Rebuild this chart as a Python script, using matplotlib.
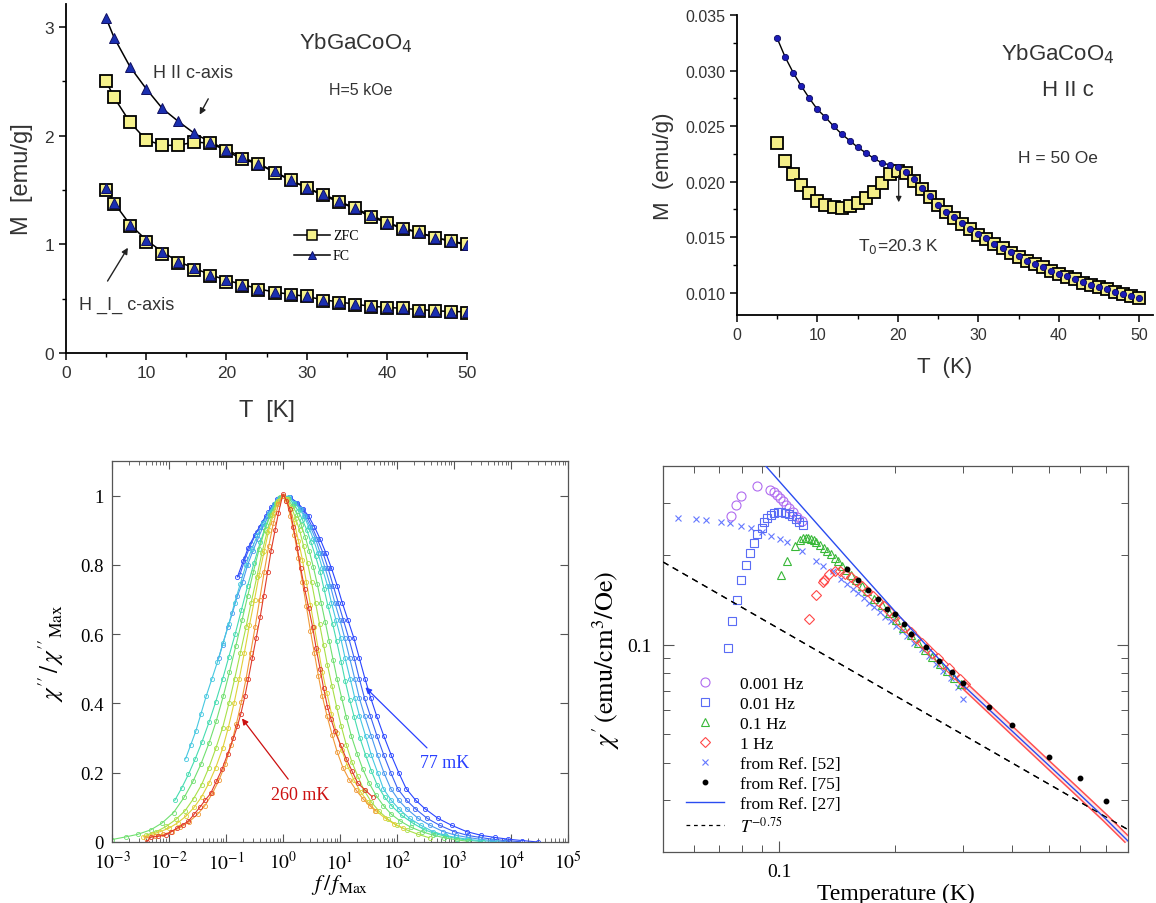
import math
import matplotlib
matplotlib.use('Agg')
import matplotlib.pyplot as plt
from matplotlib.lines import Line2D
from matplotlib.ticker import (MultipleLocator, LogLocator, NullFormatter,
                               FuncFormatter, FixedLocator)

plt.rcParams['mathtext.fontset'] = 'stix'
SANS = 'Liberation Sans'
SERIF = 'Liberation Serif'
GREY = '#333333'

# ---------------- panel A : YbGaCoO4, H = 5 kOe ----------------
T_a = [5, 6, 8, 10, 12, 14, 16, 18, 20, 22, 24, 26, 28, 30, 32, 34, 36, 38, 40, 42, 44, 46, 48, 50]
fc_par = [3.08, 2.90, 2.63, 2.43, 2.25, 2.13, 2.02, 1.94, 1.87, 1.80, 1.74, 1.67, 1.59, 1.52,
          1.46, 1.40, 1.33, 1.27, 1.20, 1.15, 1.11, 1.06, 1.03, 0.99]
zfc_par = [2.50, 2.35, 2.12, 1.96, 1.91, 1.91, 1.94, 1.93, 1.86, 1.78, 1.74, 1.66, 1.59, 1.52,
           1.45, 1.39, 1.33, 1.25, 1.20, 1.14, 1.11, 1.06, 1.03, 1.00]
zfc_perp = [1.50, 1.37, 1.17, 1.02, 0.91, 0.83, 0.76, 0.71, 0.65, 0.62, 0.58, 0.55, 0.53, 0.52,
            0.48, 0.46, 0.44, 0.42, 0.41, 0.41, 0.39, 0.39, 0.38, 0.37]
fc_perp = [1.52, 1.38, 1.18, 1.04, 0.93, 0.84, 0.78, 0.72, 0.67, 0.63, 0.59, 0.56, 0.54, 0.52,
           0.49, 0.47, 0.45, 0.43, 0.42, 0.41, 0.40, 0.39, 0.38, 0.38]

# ---------------- panel B : YbGaCoO4, H || c, H = 50 Oe ----------------
T_b = list(range(5, 51))
fc_b = [0.0329, 0.0312, 0.0298, 0.0286, 0.0275, 0.0265, 0.0258, 0.0250, 0.0243, 0.0237,
        0.0231, 0.0226, 0.0221, 0.0217, 0.0215, 0.0213, 0.0209, 0.0202, 0.0194, 0.0187,
        0.0179, 0.0173, 0.0168, 0.0163, 0.0157, 0.0153, 0.0149, 0.0144, 0.0140, 0.0137,
        0.0133, 0.0129, 0.0126, 0.0123, 0.0120, 0.0117, 0.0115, 0.0112, 0.0110, 0.0107,
        0.0105, 0.0103, 0.0101, 0.0099, 0.0097, 0.0095]
zfc_b = [0.0235, 0.0219, 0.0207, 0.0197, 0.0190, 0.0183, 0.0179, 0.0177, 0.0176, 0.0178,
         0.0181, 0.0185, 0.0191, 0.0199, 0.0207, 0.0210, 0.0208, 0.0201, 0.0193, 0.0186,
         0.0179, 0.0173, 0.0167, 0.0162, 0.0157, 0.0152, 0.0148, 0.0144, 0.0140, 0.0136,
         0.0132, 0.0129, 0.0126, 0.0123, 0.0120, 0.0117, 0.0114, 0.0112, 0.0109, 0.0107,
         0.0105, 0.0103, 0.0101, 0.0099, 0.0097, 0.0095]

# ---------------- panel C : chi''/chi''_max vs log10(f/f_max) ----------------
logf_c0 = [-0.80, -0.70, -0.61, -0.50, -0.41, -0.30, -0.21, -0.10, 0.00, 0.12, 0.25, 0.35, 0.45,
           0.55, 0.65, 0.75, 0.85, 0.95, 1.04, 1.14, 1.24, 1.34, 1.44, 1.54, 1.64, 1.77, 1.90,
           2.03, 2.16, 2.33, 2.49, 2.72, 2.96, 3.22, 3.48, 3.72, 3.95, 4.20, 4.47]
chi_c0 = [0.765, 0.81, 0.85, 0.885, 0.91, 0.94, 0.966, 0.99, 1.0, 0.995, 0.98, 0.962, 0.94,
          0.91, 0.875, 0.835, 0.79, 0.74, 0.69, 0.64, 0.59, 0.53, 0.47, 0.415, 0.365, 0.305, 0.25,
          0.20, 0.154, 0.12, 0.096, 0.068, 0.048, 0.03, 0.019, 0.013, 0.008, 0.004, 0.0]
logf_c1 = [-0.76, -0.66, -0.56, -0.46, -0.36, -0.26, -0.16, -0.07, 0.00, 0.11, 0.23, 0.33, 0.42,
           0.51, 0.60, 0.70, 0.79, 0.88, 0.97, 1.06, 1.15, 1.25, 1.34, 1.43, 1.53, 1.65, 1.77,
           1.89, 2.01, 2.17, 2.32, 2.53, 2.75, 3.00, 3.24, 3.46, 3.67, 3.90, 4.15]
chi_c1 = [0.77, 0.82, 0.86, 0.895, 0.925, 0.952, 0.975, 0.993, 1.0, 0.995, 0.98, 0.962, 0.94,
          0.91, 0.875, 0.835, 0.79, 0.74, 0.69, 0.64, 0.59, 0.53, 0.47, 0.415, 0.365, 0.305, 0.25,
          0.20, 0.154, 0.12, 0.096, 0.068, 0.048, 0.03, 0.019, 0.013, 0.008, 0.004, 0.001]
logf_c2 = [-1.13, -1.06, -0.97, -0.89, -0.80, -0.71, -0.62, -0.53, -0.44, -0.35, -0.26, -0.18,
           -0.09, 0.00, 0.10, 0.22, 0.31, 0.39, 0.48, 0.57, 0.65, 0.74, 0.83, 0.91, 1.00, 1.08,
           1.17, 1.26, 1.34, 1.43, 1.55, 1.66, 1.77, 1.89, 2.03, 2.17, 2.37, 2.58, 2.81, 3.04,
           3.25, 3.45, 3.67, 3.90]
chi_c2 = [0.53, 0.57, 0.62, 0.66, 0.71, 0.75, 0.80, 0.84, 0.875, 0.91, 0.94, 0.965, 0.99, 1.0,
          0.995, 0.98, 0.962, 0.94, 0.91, 0.875, 0.835, 0.79, 0.74, 0.69, 0.64, 0.59, 0.53, 0.47,
          0.415, 0.365, 0.305, 0.25, 0.20, 0.154, 0.12, 0.096, 0.068, 0.048, 0.03, 0.019, 0.013,
          0.008, 0.004, 0.001]
logf_c3 = [-1.71, -1.62, -1.53, -1.44, -1.35, -1.25, -1.15, -1.05, -0.95, -0.85, -0.75, -0.65,
           -0.55, -0.45, -0.35, -0.25, -0.15, -0.07, 0.00, 0.10, 0.20, 0.29, 0.37, 0.45, 0.53,
           0.61, 0.69, 0.78, 0.85, 0.93, 1.01, 1.09, 1.18, 1.26, 1.34, 1.45, 1.55, 1.66, 1.76,
           1.90, 2.03, 2.22, 2.42, 2.63, 2.84, 3.04, 3.23, 3.45, 3.75]
chi_c3 = [0.24, 0.28, 0.32, 0.37, 0.42, 0.47, 0.52, 0.575, 0.63, 0.69, 0.745, 0.80, 0.845, 0.885,
          0.92, 0.95, 0.975, 0.993, 1.0, 0.995, 0.98, 0.962, 0.94, 0.91, 0.875, 0.835, 0.79, 0.74,
          0.69, 0.64, 0.59, 0.53, 0.47, 0.415, 0.365, 0.305, 0.25, 0.20, 0.154, 0.12, 0.096,
          0.068, 0.048, 0.03, 0.019, 0.013, 0.008, 0.004, 0.001]
logf_c4 = [-1.90, -1.78, -1.66, -1.54, -1.42, -1.30, -1.18, -1.06, -0.95, -0.84, -0.73, -0.62,
           -0.51, -0.40, -0.30, -0.20, -0.10, 0.00, 0.09, 0.19, 0.27, 0.34, 0.42, 0.49, 0.57,
           0.65, 0.72, 0.79, 0.87, 0.94, 1.02, 1.09, 1.17, 1.25, 1.35, 1.45, 1.55, 1.65, 1.78,
           1.90, 2.08, 2.27, 2.47, 2.67, 2.86, 3.05, 3.25, 3.50]
chi_c4 = [0.12, 0.155, 0.195, 0.24, 0.29, 0.345, 0.405, 0.47, 0.535, 0.60, 0.67, 0.74, 0.805,
          0.865, 0.915, 0.955, 0.985, 1.0, 0.993, 0.975, 0.955, 0.93, 0.90, 0.865, 0.825, 0.78,
          0.73, 0.68, 0.63, 0.58, 0.52, 0.465, 0.41, 0.36, 0.30, 0.25, 0.205, 0.165, 0.13, 0.105,
          0.077, 0.055, 0.036, 0.024, 0.016, 0.01, 0.005, 0.001]
logf_c5 = [-3.00, -2.75, -2.55, -2.32, -2.12, -1.92, -1.73, -1.58, -1.44, -1.30, -1.17, -1.05,
           -0.94, -0.83, -0.72, -0.62, -0.52, -0.42, -0.32, -0.22, -0.12, -0.05, 0.00, 0.08, 0.17,
           0.25, 0.32, 0.39, 0.46, 0.53, 0.60, 0.67, 0.74, 0.81, 0.88, 0.95, 1.03, 1.11, 1.20,
           1.30, 1.40, 1.51, 1.63, 1.76, 1.90, 2.06, 2.24, 2.43, 2.63, 2.83, 3.05, 3.25]
chi_c5 = [0.007, 0.015, 0.022, 0.035, 0.055, 0.085, 0.13, 0.175, 0.225, 0.285, 0.35, 0.42, 0.49,
          0.565, 0.64, 0.71, 0.78, 0.845, 0.90, 0.945, 0.978, 0.995, 1.0, 0.99, 0.97, 0.945,
          0.915, 0.88, 0.84, 0.795, 0.745, 0.69, 0.635, 0.58, 0.525, 0.47, 0.415, 0.36, 0.305,
          0.255, 0.21, 0.17, 0.135, 0.105, 0.08, 0.06, 0.043, 0.03, 0.02, 0.012, 0.006, 0.002]
logf_c6 = [-2.40, -2.22, -2.05, -1.88, -1.72, -1.57, -1.43, -1.30, -1.18, -1.06, -0.95, -0.85,
           -0.75, -0.65, -0.56, -0.46, -0.37, -0.28, -0.19, -0.10, 0.00, 0.07, 0.15, 0.22, 0.29,
           0.36, 0.43, 0.50, 0.57, 0.64, 0.71, 0.78, 0.86, 0.94, 1.02, 1.11, 1.21, 1.31, 1.42,
           1.55, 1.69, 1.84, 2.00, 2.18, 2.37, 2.57]
chi_c6 = [0.02, 0.03, 0.045, 0.065, 0.09, 0.125, 0.165, 0.215, 0.27, 0.33, 0.40, 0.47, 0.545,
          0.62, 0.69, 0.765, 0.835, 0.895, 0.945, 0.98, 1.0, 0.99, 0.965, 0.935, 0.90, 0.855,
          0.805, 0.75, 0.69, 0.63, 0.57, 0.51, 0.45, 0.39, 0.335, 0.28, 0.23, 0.19, 0.15, 0.115,
          0.088, 0.066, 0.048, 0.034, 0.022, 0.012]
logf_c7 = [-2.45, -2.30, -2.15, -2.00, -1.85, -1.70, -1.56, -1.43, -1.30, -1.18, -1.06, -0.96,
           -0.86, -0.77, -0.68, -0.59, -0.50, -0.42, -0.33, -0.25, -0.16, -0.08, 0.00, 0.06, 0.13,
           0.20, 0.27, 0.34, 0.41, 0.48, 0.55, 0.62, 0.69, 0.77, 0.85, 0.94, 1.03, 1.13, 1.24,
           1.36, 1.49, 1.63, 1.78, 1.95, 2.10]
chi_c7 = [0.015, 0.022, 0.03, 0.04, 0.055, 0.075, 0.10, 0.13, 0.17, 0.215, 0.27, 0.33, 0.40,
          0.47, 0.545, 0.625, 0.70, 0.77, 0.84, 0.90, 0.95, 0.985, 1.0, 0.99, 0.96, 0.92, 0.87,
          0.815, 0.75, 0.685, 0.62, 0.555, 0.49, 0.43, 0.37, 0.315, 0.265, 0.22, 0.18, 0.145,
          0.115, 0.09, 0.07, 0.052, 0.04]
logf_c8 = [-2.40, -2.25, -2.10, -1.95, -1.80, -1.65, -1.50, -1.37, -1.24, -1.12, -1.01, -0.91,
           -0.82, -0.73, -0.65, -0.57, -0.49, -0.41, -0.33, -0.25, -0.17, -0.08, 0.00, 0.06, 0.13,
           0.20, 0.27, 0.34, 0.41, 0.48, 0.55, 0.62, 0.69, 0.77, 0.86, 0.95, 1.05, 1.16, 1.28,
           1.40, 1.52, 1.62]
chi_c8 = [0.012, 0.016, 0.022, 0.03, 0.042, 0.058, 0.08, 0.105, 0.14, 0.18, 0.225, 0.28, 0.34,
          0.405, 0.47, 0.545, 0.62, 0.70, 0.78, 0.855, 0.92, 0.975, 1.0, 0.985, 0.94, 0.885, 0.82,
          0.75, 0.68, 0.61, 0.545, 0.48, 0.42, 0.365, 0.31, 0.26, 0.215, 0.18, 0.15, 0.125,
          0.105, 0.09]
logf_c9 = [-2.39, -2.32, -2.20, -2.06, -1.96, -1.86, -1.76, -1.66, -1.56, -1.46, -1.37, -1.27,
           -1.17, -1.07, -0.97, -0.87, -0.80, -0.74, -0.67, -0.61, -0.54, -0.47, -0.40, -0.34,
           -0.27, -0.21, -0.14, -0.08, 0.00, 0.06, 0.12, 0.18, 0.25, 0.31, 0.38, 0.45, 0.52, 0.58,
           0.65, 0.71, 0.78, 0.84, 0.91, 1.01, 1.11, 1.21, 1.31, 1.44, 1.57]
chi_c9 = [0.0, 0.014, 0.016, 0.02, 0.03, 0.04, 0.05, 0.06, 0.08, 0.10, 0.12, 0.14, 0.175, 0.21,
          0.255, 0.30, 0.335, 0.37, 0.42, 0.47, 0.53, 0.59, 0.65, 0.71, 0.78, 0.84, 0.90, 0.95,
          1.005, 0.985, 0.96, 0.91, 0.85, 0.79, 0.73, 0.675, 0.62, 0.56, 0.50, 0.445, 0.39,
          0.355, 0.32, 0.28, 0.24, 0.205, 0.17, 0.15, 0.13]
curve_colors = ['#2a45ff', '#3b62f5', '#4a9af0', '#45c8e0', '#45dcb0',
                '#70e070', '#a8e048', '#e0d038', '#f09a38', '#e03a2a']

# ---------------- panel D : chi' vs T (log-log) ----------------
T_001 = [0.0748, 0.0772, 0.0796, 0.0877, 0.0947, 0.0968, 0.0985, 0.1002, 0.1020, 0.1040,
         0.1062, 0.1085, 0.1114, 0.1145]
chi_001 = [0.272, 0.296, 0.316, 0.342, 0.332, 0.326, 0.320, 0.313, 0.305, 0.296, 0.289, 0.279,
           0.270, 0.262]
T_01 = [0.0736, 0.0754, 0.0777, 0.0798, 0.0820, 0.0841, 0.0860, 0.0878, 0.0900, 0.0915, 0.0931,
        0.0950, 0.0970, 0.0991, 0.1013, 0.1035, 0.1058, 0.1081, 0.1105, 0.1128, 0.1153]
chi_01 = [0.0977, 0.1198, 0.1416, 0.1646, 0.1853, 0.2033, 0.2203, 0.2361, 0.2474, 0.2586,
          0.2674, 0.2737, 0.2780, 0.2801, 0.2794, 0.2780, 0.2751, 0.2708, 0.2653, 0.2592, 0.2526]
T_1 = [0.1013, 0.1046, 0.1098, 0.1133, 0.1153, 0.1171, 0.1189, 0.1209, 0.1228, 0.1249, 0.1276,
       0.1304, 0.1333, 0.1362, 0.1391, 0.1422, 0.1453, 0.1491, 0.1533, 0.1584, 0.1636, 0.1690,
       0.1765, 0.1842, 0.1924, 0.2009, 0.2098, 0.2190, 0.2287, 0.2388, 0.2493, 0.2603, 0.2718,
       0.2838, 0.2963]
chi_1 = [0.1711, 0.1907, 0.2142, 0.2255, 0.2285, 0.2291, 0.2285, 0.2273, 0.2249, 0.2214, 0.2169,
         0.2125, 0.2076, 0.2018, 0.1962, 0.1907, 0.1848, 0.1787, 0.1719, 0.1646, 0.1575, 0.1511,
         0.1428, 0.1356, 0.1281, 0.1207, 0.1141, 0.1075, 0.1015, 0.0957, 0.0907, 0.0859, 0.0815,
         0.0773, 0.0734]
T_10 = [0.1197, 0.1244, 0.1299, 0.1304, 0.1347, 0.1391, 0.1437, 0.1484, 0.1533, 0.1584, 0.1636,
        0.1690, 0.1746, 0.1804, 0.1863, 0.1924, 0.1987, 0.2052, 0.2120, 0.2190, 0.2262, 0.2337,
        0.2414, 0.2493, 0.2576, 0.2661, 0.2748, 0.2838, 0.2932, 0.3029]
chi_10 = [0.1223, 0.1465, 0.1625, 0.1646, 0.1733, 0.1769, 0.1764, 0.1733, 0.1689, 0.1633,
          0.1575, 0.1515, 0.1458, 0.1403, 0.1349, 0.1295, 0.1245, 0.1195, 0.1147, 0.1100, 0.1056,
          0.1013, 0.0974, 0.0935, 0.0900, 0.0863, 0.0831, 0.0797, 0.0765, 0.0736]
T_10_hi = [0.30, 0.40, 0.50, 0.60, 0.70, 0.80]
chi_10_hi = [0.0733, 0.0515, 0.0392, 0.0314, 0.0260, 0.0219]
T_ref52 = [0.0547, 0.0608, 0.0646, 0.0708, 0.0747, 0.0797, 0.0847, 0.0900, 0.0950, 0.1007,
           0.1046, 0.1146, 0.1244, 0.1299, 0.1376, 0.1443, 0.1501, 0.1550, 0.1601, 0.1654,
           0.1709, 0.1765, 0.1823, 0.1883, 0.1945, 0.2009, 0.2075, 0.2143, 0.2239, 0.2337,
           0.2440, 0.2548, 0.2661, 0.2779, 0.2901, 0.2996]
chi_ref52 = [0.2674, 0.2653, 0.2639, 0.2599, 0.2565, 0.2519, 0.2467, 0.2405, 0.2331, 0.2278,
             0.2214, 0.2076, 0.1916, 0.1848, 0.1769, 0.1667, 0.1595, 0.1543, 0.1492, 0.1436,
             0.1385, 0.1339, 0.1288, 0.1239, 0.1198, 0.1156, 0.1109, 0.1069, 0.1015, 0.0964,
             0.0913, 0.0863, 0.0815, 0.0773, 0.0721, 0.0658]
T_ref75 = [0.15, 0.16, 0.17, 0.18, 0.19, 0.20, 0.21, 0.22, 0.24, 0.26, 0.28, 0.30, 0.35, 0.40,
           0.50, 0.60, 0.70]
chi_ref75 = [0.1801, 0.1650, 0.1531, 0.1428, 0.1318, 0.1265, 0.1170, 0.1089, 0.0979, 0.0881,
             0.0811, 0.0743, 0.0617, 0.0538, 0.0419, 0.0354, 0.0296]
T_ref27 = [0.0923, 0.15, 0.20, 0.30, 0.40, 0.50, 0.60, 0.70, 0.80]
chi_ref27 = [0.400, 0.196, 0.129, 0.0728, 0.0513, 0.0391, 0.0313, 0.0259, 0.0218]
T_pow = [0.05, 0.80]
chi_pow = [0.190, 0.0238]

fig = plt.figure(figsize=(11.56, 9.04), dpi=100)


def origin_style(ax):
    for s in ('top', 'right'):
        ax.spines[s].set_visible(False)
    for s in ('left', 'bottom'):
        ax.spines[s].set_linewidth(1.3)
    ax.tick_params(which='major', direction='out', length=5, width=1.1,
                   labelsize=12.5, labelcolor=GREY)
    ax.tick_params(which='minor', direction='out', length=3, width=1.0)
    for lab in ax.get_xticklabels() + ax.get_yticklabels():
        lab.set_family(SANS)


# ---- A ----
axA = fig.add_axes([0.0571, 0.6084, 0.3469, 0.3861])
sq = dict(ls='none', marker='s', ms=9, mfc='#f6f28c', mec='k', mew=1.3)
tri = dict(ls='none', marker='^', ms=6.5, mfc='#1a2fb0', mec='#101060', mew=0.7)
for y in (fc_par, zfc_par, fc_perp):
    axA.plot(T_a, y, '-', color='k', lw=1.1)
axA.plot(T_a, zfc_par, **sq)
axA.plot(T_a, zfc_perp, **sq)
axA.plot(T_a, fc_par, **tri)
axA.plot(T_a, fc_perp, **tri)
axA.set_xlim(0, 50)
axA.set_ylim(0, 3.21)
axA.xaxis.set_major_locator(MultipleLocator(10))
axA.xaxis.set_minor_locator(MultipleLocator(5))
axA.yaxis.set_major_locator(MultipleLocator(1))
axA.yaxis.set_minor_locator(MultipleLocator(0.5))
origin_style(axA)
axA.set_xlabel('T  [K]', family=SANS, fontsize=17, color=GREY, labelpad=14)
axA.set_ylabel('M  [emu/g]', family=SANS, fontsize=17, color=GREY, labelpad=8)
axA.text(36.2, 2.86, 'YbGaCoO$_4$', family=SANS, fontsize=16, color=GREY,
         ha='center', va='center', math_fontfamily='dejavusans')
axA.text(36.8, 2.42, 'H=5 kOe', family=SANS, fontsize=11.5, color=GREY, ha='center', va='center')
axA.text(15.8, 2.58, 'H II c-axis', family=SANS, fontsize=13, color=GREY, ha='center', va='center')
axA.annotate('', xy=(16.5, 2.17), xytext=(17.9, 2.36),
             arrowprops=dict(arrowstyle='-|>', color='#222222', lw=1.0, mutation_scale=9))
axA.text(7.6, 0.45, 'H _I_ c-axis', family=SANS, fontsize=13, color=GREY, ha='center', va='center')
axA.annotate('', xy=(7.9, 0.99), xytext=(5.0, 0.64),
             arrowprops=dict(arrowstyle='-|>', color='#222222', lw=1.0, mutation_scale=9))
hA = [Line2D([], [], color='k', lw=1.1, marker='s', ms=7, mfc='#f6f28c', mec='k', mew=1.1),
      Line2D([], [], color='k', lw=1.1, marker='^', ms=6, mfc='#1a2fb0', mec='#101060', mew=0.7)]
axA.legend(hA, ['ZFC', 'FC'], loc='upper left', bbox_to_anchor=(0.555, 0.37), frameon=False,
           prop={'family': SERIF, 'size': 10}, handlelength=2.6, labelspacing=0.5,
           handletextpad=0.2, borderaxespad=0)

# ---- B ----
axB = fig.add_axes([0.6375, 0.6504, 0.3599, 0.3319])
axB.plot(T_b, fc_b, '-', color='k', lw=1.0)
axB.plot(T_b, zfc_b, ls='none', marker='s', ms=8.5, mfc='#f4ee88', mec='k', mew=1.3)
axB.plot(T_b, fc_b, ls='none', marker='o', ms=4.5, mfc='#1c1cb8', mec='#0a0a60', mew=0.6)
axB.set_xlim(0, 51.7)
axB.set_ylim(0.008, 0.035)
axB.xaxis.set_major_locator(MultipleLocator(10))
axB.xaxis.set_minor_locator(MultipleLocator(5))
axB.yaxis.set_major_locator(MultipleLocator(0.005))
axB.yaxis.set_minor_locator(MultipleLocator(0.0025))
axB.yaxis.set_major_formatter(FuncFormatter(lambda v, p: '%.3f' % v))
origin_style(axB)
axB.tick_params(labelsize=11.5)
axB.set_xlabel('T  (K)', family=SANS, fontsize=16, color=GREY, labelpad=10)
axB.set_ylabel('M  (emu/g)', family=SANS, fontsize=16, color=GREY, labelpad=8)
axB.text(39.9, 0.0316, 'YbGaCoO$_4$', family=SANS, fontsize=16, color=GREY,
         ha='center', va='center', math_fontfamily='dejavusans')
axB.text(41.1, 0.0283, 'H II c', family=SANS, fontsize=16, color=GREY, ha='center', va='center')
axB.text(39.9, 0.0222, 'H = 50 Oe', family=SANS, fontsize=12.5, color=GREY, ha='center', va='center')
axB.text(20.1, 0.0143, 'T$_0$=20.3 K', family=SANS, fontsize=12.5, color=GREY,
         ha='center', va='center', math_fontfamily='dejavusans')
axB.annotate('', xy=(20.1, 0.0179), xytext=(20.1, 0.0208),
             arrowprops=dict(arrowstyle='-|>', color='#222222', lw=0.9, mutation_scale=8))

# ---- C ----
axC = fig.add_axes([0.0969, 0.0675, 0.3945, 0.4215])
curves = [(logf_c0, chi_c0), (logf_c1, chi_c1), (logf_c2, chi_c2), (logf_c3, chi_c3),
          (logf_c4, chi_c4), (logf_c5, chi_c5), (logf_c6, chi_c6), (logf_c7, chi_c7),
          (logf_c8, chi_c8), (logf_c9, chi_c9)]
for (lf, ch), col in zip(curves, curve_colors):
    f = [10 ** v for v in lf]
    axC.plot(f, ch, '-', color=col, lw=0.8, marker='o', ms=3, mfc='none', mec=col, mew=0.6)
axC.set_xscale('log')
axC.set_xlim(1e-3, 1e5)
axC.set_ylim(0, 1.1)
axC.xaxis.set_major_locator(LogLocator(base=10, numticks=20))
axC.xaxis.set_minor_locator(LogLocator(base=10, subs=range(2, 10), numticks=20))
axC.xaxis.set_minor_formatter(NullFormatter())
axC.xaxis.set_major_formatter(FuncFormatter(lambda v, p: r'$10^{%d}$' % round(math.log10(v))))
axC.yaxis.set_major_locator(FixedLocator([0, 0.2, 0.4, 0.6, 0.8, 1.0]))
axC.yaxis.set_major_formatter(FuncFormatter(lambda v, p: '%g' % round(v, 1)))
axC.tick_params(which='both', direction='in', top=True, right=True, color='#555555')
axC.tick_params(which='major', length=6, width=0.8, labelsize=14, pad=6)
axC.tick_params(which='minor', length=3, width=0.6)
axC.tick_params(axis='y', labelsize=13.5)
for s in axC.spines.values():
    s.set_color('#555555')
    s.set_linewidth(0.9)
for lab in axC.get_yticklabels():
    lab.set_family(SERIF)
axC.set_xlabel(r'$f\,/\,f_{\rm Max}$', fontsize=16, labelpad=0)
axC.set_ylabel(r"$\chi''\,/\,\chi''_{\rm Max}$", fontsize=18, labelpad=10)
axC.text(10 ** 2.84, 0.23, '77 mK', family=SERIF, fontsize=13, color='#2a40ff',
         ha='center', va='center')
axC.annotate('', xy=(10 ** 1.41, 0.452), xytext=(10 ** 2.56, 0.266),
             arrowprops=dict(arrowstyle='-|>', color='#2a40ff', lw=0.9, mutation_scale=9))
axC.text(10 ** 0.30, 0.137, '260 mK', family=SERIF, fontsize=13, color='#cc1010',
         ha='center', va='center')
axC.annotate('', xy=(10 ** -0.75, 0.363), xytext=(10 ** 0.12, 0.175),
             arrowprops=dict(arrowstyle='-|>', color='#cc1010', lw=0.9, mutation_scale=9))

# ---- D ----
axD = fig.add_axes([0.5735, 0.0564, 0.4022, 0.4270])
axD.set_xscale('log')
axD.set_yscale('log')
axD.plot(T_pow, chi_pow, '--', color='k', lw=0.9, dashes=(5, 4), zorder=2)
axD.plot(T_10_hi, chi_10_hi, '-', color='#ff5050', lw=6.0, solid_capstyle='butt', zorder=3)
axD.plot(T_10_hi, chi_10_hi, '-', color='#ffe6e6', lw=3.8, solid_capstyle='butt', zorder=3)
axD.plot(T_ref52, chi_ref52, ls='none', marker='x', ms=4.5, mec='#6478ff', mew=0.8, zorder=3)
axD.plot(T_001, chi_001, ls='none', marker='o', ms=6.5, mfc='none', mec='#b06cf0', mew=0.8, zorder=4)
axD.plot(T_01, chi_01, ls='none', marker='s', ms=5.5, mfc='none', mec='#5a6cf5', mew=0.8, zorder=4)
axD.plot(T_1, chi_1, ls='none', marker='^', ms=6, mfc='none', mec='#38b838', mew=0.8, zorder=4)
axD.plot(T_10, chi_10, ls='none', marker='D', ms=5, mfc='none', mec='#ff4848', mew=0.8, zorder=4)
axD.plot(T_ref27, chi_ref27, '-', color='#2a4cf0', lw=1.0, zorder=5)
axD.plot(T_pow, chi_pow, '--', color='k', lw=0.9, dashes=(5, 4), zorder=5)
axD.plot(T_ref75, chi_ref75, ls='none', marker='o', ms=3.2, color='k', zorder=6)
axD.set_xlim(0.05, 0.8)
axD.set_ylim(0.02, 0.4)
for axis in (axD.xaxis, axD.yaxis):
    axis.set_major_locator(LogLocator(base=10, numticks=10))
    axis.set_minor_locator(LogLocator(base=10, subs=range(2, 10), numticks=10))
    axis.set_minor_formatter(NullFormatter())
    axis.set_major_formatter(FuncFormatter(lambda v, p: '0.1' if abs(v - 0.1) < 1e-9 else ''))
axD.tick_params(which='both', direction='in', top=True, right=True, color='#555555')
axD.tick_params(which='major', length=8, width=0.8, labelsize=14, pad=8)
axD.tick_params(which='minor', length=5, width=0.7)
for s in axD.spines.values():
    s.set_color('#555555')
    s.set_linewidth(0.9)
for lab in axD.get_xticklabels() + axD.get_yticklabels():
    lab.set_family(SERIF)
axD.set_xlabel('Temperature (K)', family=SERIF, fontsize=17, labelpad=2)
axD.set_ylabel(r"$\chi'\,(\mathrm{emu/cm^3/Oe})$", fontsize=19, labelpad=4)
hD = [Line2D([], [], ls='none', marker='o', ms=6.5, mfc='none', mec='#b06cf0', mew=0.8),
      Line2D([], [], ls='none', marker='s', ms=5.5, mfc='none', mec='#5a6cf5', mew=0.8),
      Line2D([], [], ls='none', marker='^', ms=6, mfc='none', mec='#38b838', mew=0.8),
      Line2D([], [], ls='none', marker='D', ms=5, mfc='none', mec='#ff4848', mew=0.8),
      Line2D([], [], ls='none', marker='x', ms=4.5, mec='#6478ff', mew=0.8),
      Line2D([], [], ls='none', marker='o', ms=3.2, color='k'),
      Line2D([], [], color='#2a4cf0', lw=1.0),
      Line2D([], [], color='k', lw=0.9, ls='--', dashes=(3, 3))]
labD = ['0.001 Hz', '0.01 Hz', '0.1 Hz', '1 Hz', 'from Ref. [52]', 'from Ref. [75]',
        'from Ref. [27]', r'$T^{-0.75}$']
axD.legend(hD, labD, loc='upper left', bbox_to_anchor=(0.035, 0.475), frameon=False,
           prop={'family': SERIF, 'size': 12.5}, handlelength=2.2, labelspacing=0.22,
           handletextpad=0.9, borderaxespad=0)

fig.savefig('out.png', dpi=100)
